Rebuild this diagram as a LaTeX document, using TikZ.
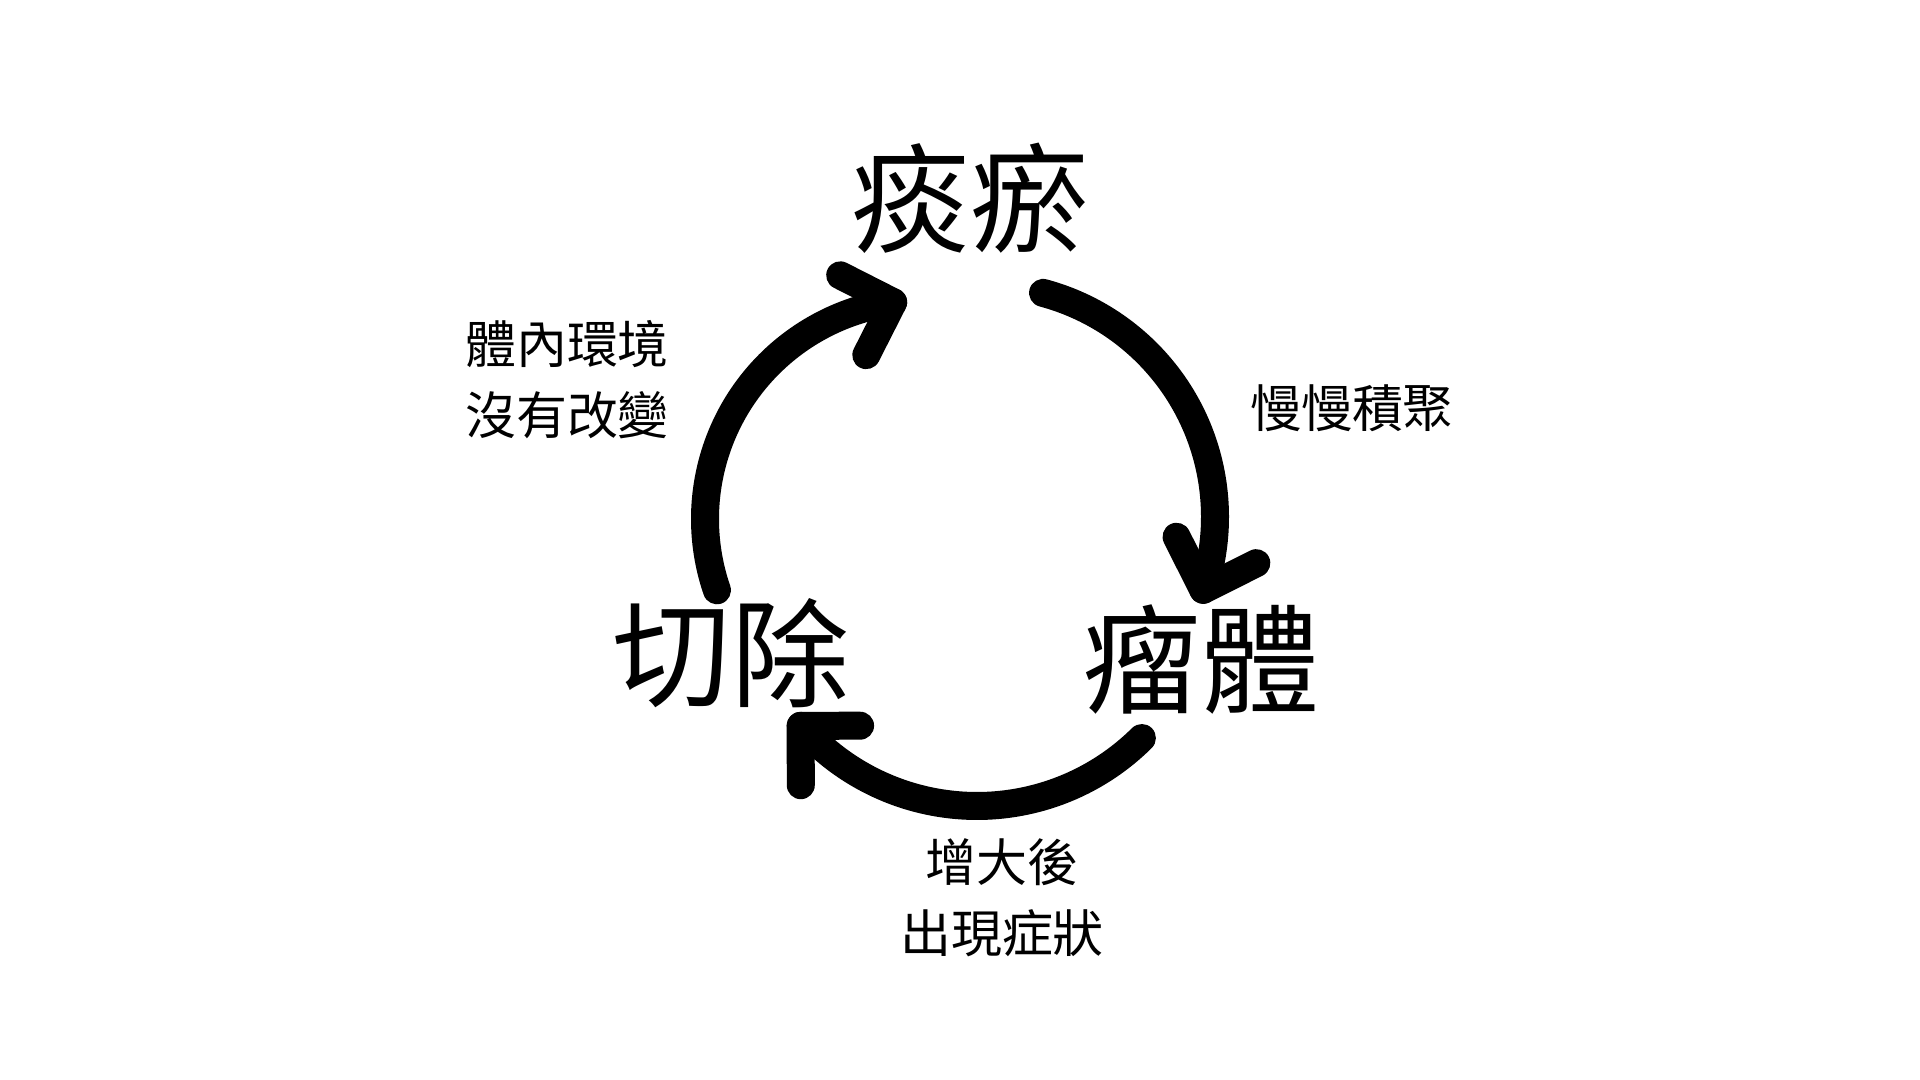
\documentclass[tikz,border=0pt]{standalone}
\usepackage{fontspec}
\setmainfont{Noto Sans CJK TC}
\usetikzlibrary{calc}
\usetikzlibrary{decorations.markings}
\tikzset{
	big/.style={font=\fontsize{33.6}{40}\selectfont, inner sep=0pt},
	small/.style={font=\fontsize{14.5}{20.2}\selectfont, align=center, inner sep=0pt},
	cyc/.style={line width=0.28cm, line cap=round, line join=round},
	headat/.style={postaction={decorate, decoration={markings, mark=at position 1 with {\draw[cyc, rotate=#1] (-0.42,0.42) -- (0,0) -- (-0.42,-0.42);}}}}
}
\begin{document}
\begin{tikzpicture}
		\useasboundingbox (0,0) rectangle (19.2,10.8);
		\node[big] (tanyu) at (9.70,8.82) {痰瘀};
		\node[big] (liuti) at (12.01,4.20) {瘤體};
		\node[big] (qiechu) at (7.31,4.27) {切除};
		\node[small] (jiju) at (13.52,6.72) {慢慢積聚};
		\node[small] (zengda) at (10.02,1.82) {增大後\\出現症狀};
		\node[small] (huanjing) at (5.67,7.00) {體內環境\\沒有改變};
		% centres of the three arcs
		\coordinate (rc) at (9.83,5.63);
		\coordinate (bc) at (9.77,5.08);
		\coordinate (lc) at (9.24,5.61);
		\coordinate (tanyu-out) at ($(rc)+(75:2.32)$);
		\coordinate (liuti-out) at ($(bc)+(-45.2:2.34)$);
		\coordinate (qiechu-out) at ($(lc)+(199:2.19)$);
		\draw[cyc, headat=0] (tanyu-out) arc[start angle=75, end angle=-18.3, radius=2.32];
		\draw[cyc, headat=4] (liuti-out) arc[start angle=-45.2, end angle=-138.9, radius=2.34];
		\draw[cyc, headat=10] (qiechu-out) arc[start angle=199, end angle=98.1, radius=2.19];
	\end{tikzpicture}
\end{document}
